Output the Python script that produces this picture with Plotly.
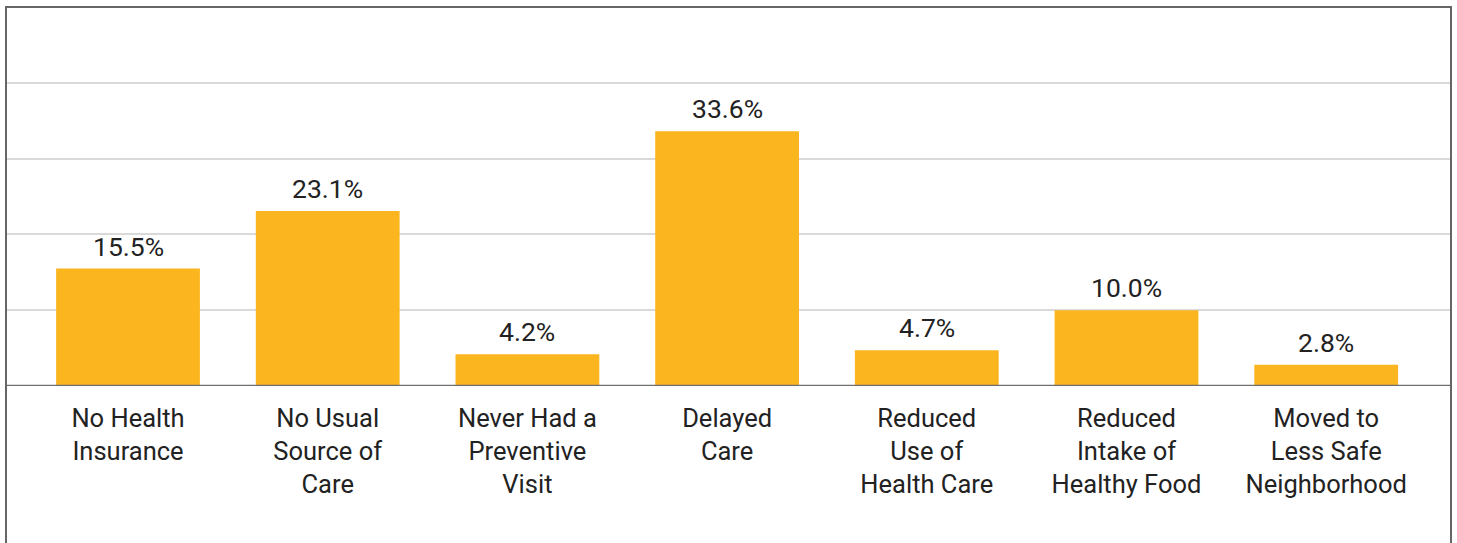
import plotly.graph_objects as go

categories = ["No Health<br>Insurance", "No Usual<br>Source of<br>Care", "Never Had a<br>Preventive<br>Visit",
              "Delayed<br>Care", "Reduced<br>Use of<br>Health Care", "Reduced<br>Intake of<br>Healthy Food",
              "Moved to<br>Less Safe<br>Neighborhood"]
values = [15.5, 23.1, 4.2, 33.6, 4.7, 10.0, 2.8]
labels = ["15.5%", "23.1%", "4.2%", "33.6%", "4.7%", "10.0%", "2.8%"]

FONT = "Roboto"
fig = go.Figure()
fig.add_trace(go.Bar(
    x=list(range(len(categories))), y=values,
    marker=dict(color="#FBB51E", line=dict(width=0)),
    width=0.72, hoverinfo="skip",
))
for i, (v, t) in enumerate(zip(values, labels)):
    fig.add_annotation(x=i, y=v, text=t, showarrow=False, yanchor="bottom",
                       yshift=5, font=dict(family=FONT, size=26.5, color="#222222"))

fig.update_layout(
    width=1457, height=543,
    margin=dict(l=6, r=6, t=7, b=157),
    paper_bgcolor="white", plot_bgcolor="white",
    showlegend=False,
    font=dict(family=FONT, size=26, color="#222222"),
    xaxis=dict(range=[-0.611, 6.625], tickmode="array",
               tickvals=list(range(len(categories))), ticktext=categories,
               showgrid=False, zeroline=False, showline=False,
               ticks="outside", ticklen=9, tickcolor="rgba(0,0,0,0)",
               tickfont=dict(family=FONT, size=25.5, color="#222222")),
    yaxis=dict(range=[0, 50], dtick=10, showticklabels=False,
               showgrid=True, gridcolor="#d9d9d9", gridwidth=2,
               zeroline=False, showline=False),
    shapes=[
        dict(type="line", xref="paper", yref="y", x0=0, x1=1, y0=0, y1=0,
             line=dict(color="#707070", width=2.5), layer="above"),
        dict(type="rect", xref="paper", yref="paper", x0=0, x1=1, y0=-0.6, y1=1,
             line=dict(color="#666666", width=2), layer="above"),
    ],
)
fig.write_html("out.html", config={"displayModeBar": False},
               post_script="document.body.style.margin='0';")
